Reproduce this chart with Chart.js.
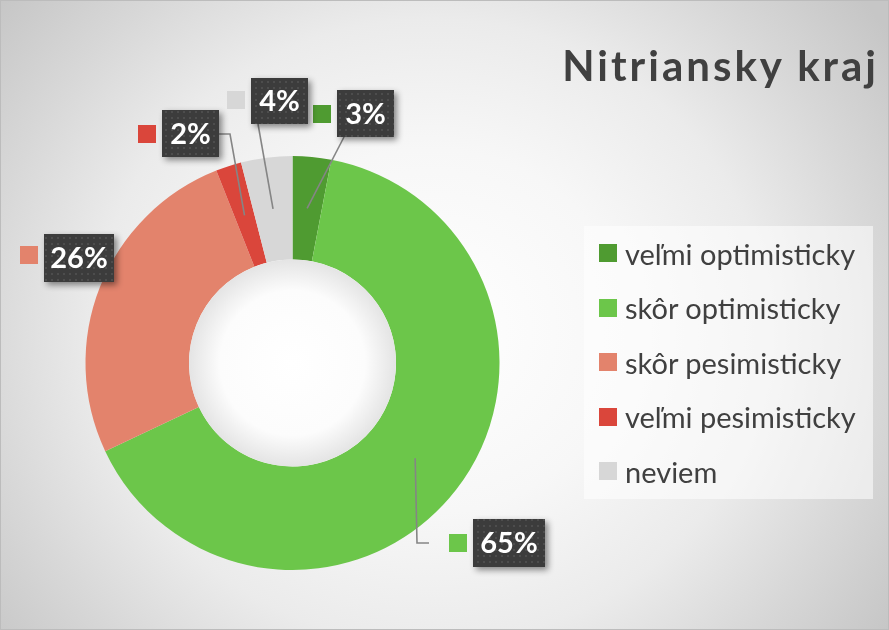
<!DOCTYPE html>
<html><head><meta charset="utf-8">
<script src="https://cdn.jsdelivr.net/npm/chart.js@4"></script>
<style>
html,body{margin:0;padding:0;}
body{width:889px;height:630px;overflow:hidden;font-family:Lato,"Open Sans",sans-serif;}
#wrap{position:relative;width:889px;height:630px;box-sizing:border-box;border:1px solid #bcbcbc;
 background:radial-gradient(ellipse 560px 520px at 430px 330px, #ffffff 0%, #f7f7f7 35%, #ebebeb 60%, #d8d8d8 80%, #c6c6c6 100%);}
#c{position:absolute;left:0;top:0;}
#title{position:absolute;right:9px;top:43px;font-weight:700;font-size:42px;line-height:42px;letter-spacing:3px;color:#404040;white-space:nowrap;}
#legend{position:absolute;left:583px;top:225px;width:289px;height:273px;background:rgba(255,255,255,0.55);}
.li{position:absolute;left:15px;height:30px;display:flex;align-items:center;font-size:29px;color:#404040;white-space:nowrap;}
.sw{width:18px;height:18px;margin-right:8px;flex:none;}
</style></head>
<body><div id="wrap"><canvas id="c" width="889" height="630"></canvas>
<div id="title">Nitriansky kraj</div><div id="legend"></div></div>
<script>
const categories = ['veľmi optimisticky','skôr optimisticky','skôr pesimisticky','veľmi pesimisticky','neviem'];
const shares = [3, 65, 26, 2, 4];
const valueLabels = ['3%','65%','26%','2%','4%'];
const sliceColors = ['#4f9b31','#6cc64a','#e3836c','#da463b','#d7d7d7'];

// callout layout: label box [x,y,w,h], key square origin, leader path from the box toward the slice
const calloutLayout = [
  {box:[336,89,57,47], key:[312,104], path:[[343,136]]},
  {box:[472,518,72,48], key:[448,533], path:[[428,542],[416,542]]},
  {box:[43,233,70,48], key:[19,245], path:null},
  {box:[161,109,57,47], key:[137,124], path:[[218,133],[229,133]]},
  {box:[250,77,57,46], key:[226,90], path:[[257,123]]}
];

// legend
const lg = document.getElementById('legend');
categories.forEach((c,i)=>{
  const d=document.createElement('div');d.className='li';d.style.top=(12+i*54.6)+'px';
  d.innerHTML='<span class="sw" style="background:'+sliceColors[i]+'"></span><span>'+c+'</span>';
  lg.appendChild(d);
});

function makePattern(ctx){
  const p=document.createElement('canvas');p.width=6;p.height=6;
  const g=p.getContext('2d');g.fillStyle='#3c3c3c';g.fillRect(0,0,6,6);
  g.fillStyle='#4d4d4d';g.fillRect(2,2,2,2);
  return ctx.createPattern(p,'repeat');
}

const calloutPlugin = {
  id:'callouts',
  afterDatasetsDraw(chart){
    const ctx=chart.ctx;const meta=chart.getDatasetMeta(0);
    const a0=meta.data[0];
    ctx.save();
    const hg=ctx.createRadialGradient(a0.x,a0.y,0,a0.x,a0.y,a0.innerRadius);
    hg.addColorStop(0,'#ffffff');hg.addColorStop(0.7,'#fcfcfc');hg.addColorStop(1,'#e4e4e4');
    ctx.fillStyle=hg;ctx.beginPath();ctx.arc(a0.x,a0.y,a0.innerRadius,0,Math.PI*2);ctx.fill();
    ctx.restore();
    ctx.save();ctx.strokeStyle='#858585';ctx.lineWidth=1.6;
    meta.data.forEach((arc,i)=>{
      const L=calloutLayout[i]; if(!L.path) return;
      const mid=(arc.startAngle+arc.endAngle)/2, r=(arc.innerRadius+arc.outerRadius)/2;
      const px=arc.x+Math.cos(mid)*r, py=arc.y+Math.sin(mid)*r;
      ctx.beginPath();ctx.moveTo(L.path[0][0],L.path[0][1]);
      for(let k=1;k<L.path.length;k++)ctx.lineTo(L.path[k][0],L.path[k][1]);
      ctx.lineTo(px,py);ctx.stroke();
    });
    ctx.restore();
    const pat=makePattern(ctx);
    meta.data.forEach((arc,i)=>{
      const L=calloutLayout[i];const [x,y,w,h]=L.box;
      ctx.save();
      ctx.fillStyle=sliceColors[i];ctx.fillRect(L.key[0],L.key[1],18,18);
      ctx.shadowColor='rgba(0,0,0,0.45)';ctx.shadowBlur=6;ctx.shadowOffsetX=3;ctx.shadowOffsetY=3;
      ctx.fillStyle=pat;ctx.fillRect(x,y,w,h);
      ctx.restore();
      ctx.save();ctx.fillStyle='#ffffff';ctx.font='700 29px Lato';ctx.textAlign='center';ctx.textBaseline='middle';
      ctx.fillText(valueLabels[i],x+w/2,y+h/2+1);ctx.restore();
    });
  }
};

new Chart(document.getElementById('c'),{
  type:'doughnut',
  data:{labels:categories,datasets:[{data:shares,backgroundColor:sliceColors,borderWidth:0}]},
  options:{responsive:false,animation:false,cutout:'50%',
    layout:{padding:{left:84.5,right:390.5,top:155,bottom:61}},
    plugins:{legend:{display:false},tooltip:{enabled:false}}},
  plugins:[calloutPlugin]
});
</script></body></html>
